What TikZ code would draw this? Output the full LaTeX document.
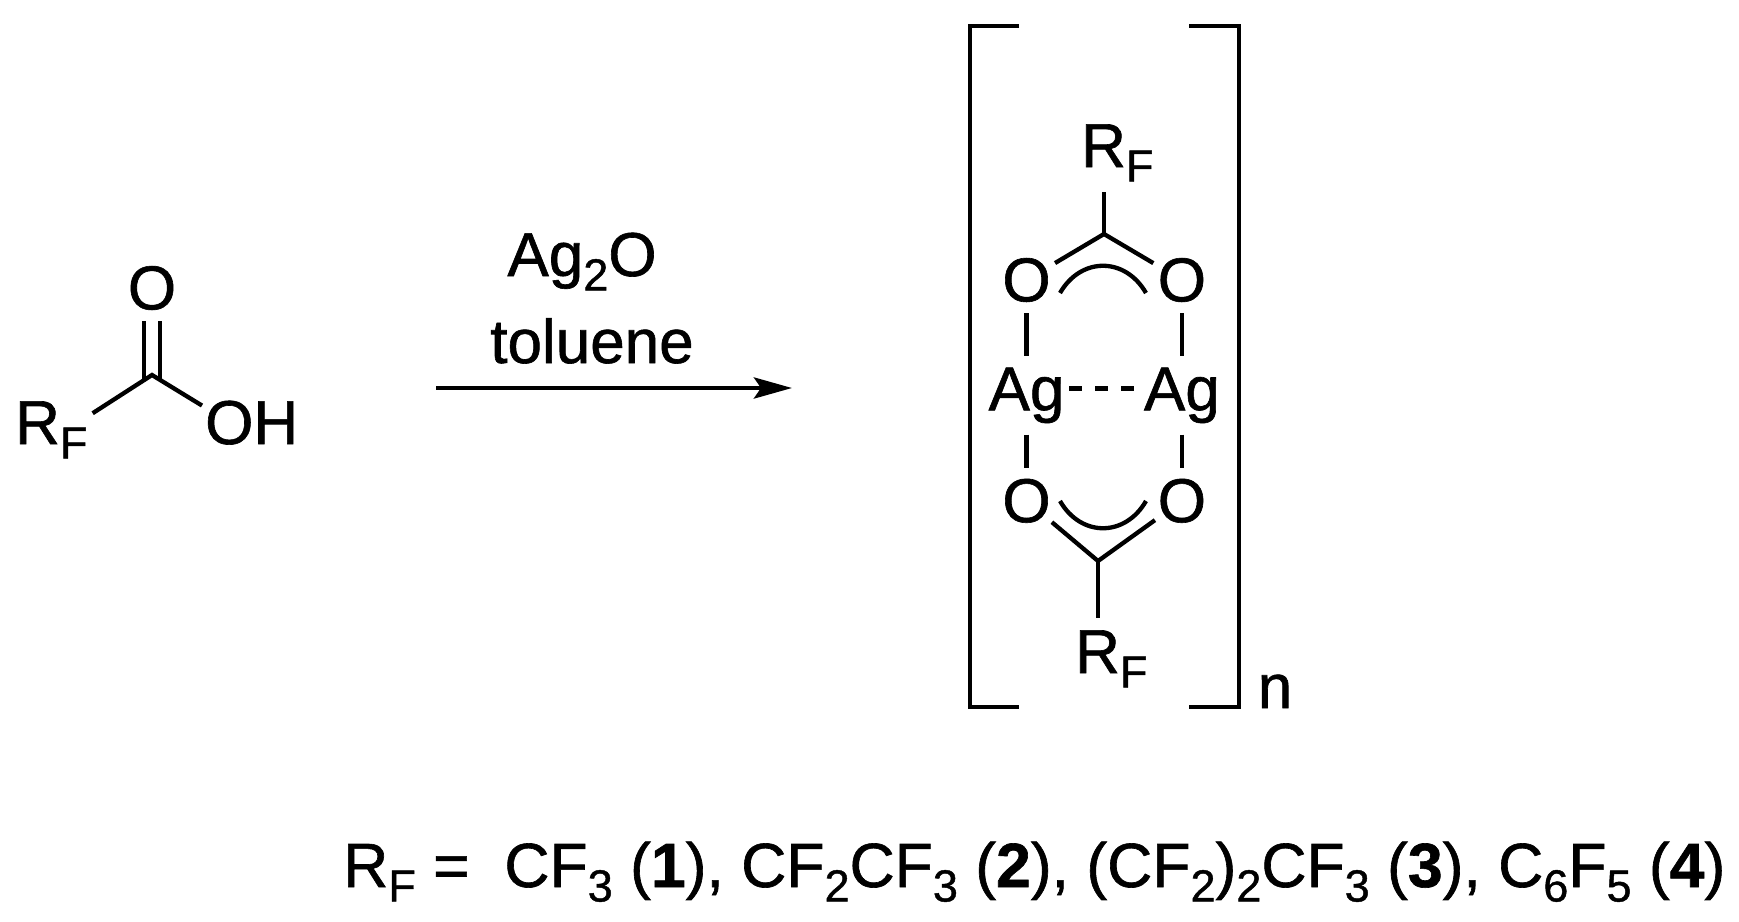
\documentclass[tikz,border=0pt]{standalone}
\usepackage{fontspec}
\setmainfont{Liberation Sans}[RawFeature={embolden=1}]
\usetikzlibrary{arrows.meta,positioning}
\newcommand{\lowtext}[1]{\raisebox{-14.5pt}{\fontsize{45pt}{45pt}\selectfont #1}}
\tikzset{%
  bond/.style={line width=4.3pt},
  bracket/.style={line width=4.7pt},
  arrow/.style={line width=4.7pt,-{Stealth[length=38pt,width=21pt,inset=7pt]}},
  dashbond/.style={bond,dash pattern=on 13pt off 13pt},
  atom/.style={circle,inner sep=0pt,minimum size=66pt},
  silver/.style={inner sep=0pt,minimum width=78pt,minimum height=78pt},
  label/.style={anchor=base west,inner sep=0pt},
  group/.style={anchor=base west,inner sep=10pt},
}
\begin{document}
\begin{tikzpicture}[x=1pt,y=-1pt,font=\fontsize{62pt}{70pt}\selectfont]
      \useasboundingbox (0,0) rectangle (1739,921);

      % acid
      \coordinate (cacid) at (152,375);
      \node[atom] (oacid) at (152,288) {O};
      \node[group,inner sep=5pt] (rfacid) at (10,444) {R\lowtext{F}};
      \node[group,inner sep=3pt] (ohacid) at (202,444) {OH};

      \draw[bond] (rfacid.22) -- (cacid) -- (ohacid.161);
      \draw[bond] ([xshift=-8pt,yshift=-4pt]cacid) -- ([xshift=-8pt]oacid.south);
      \draw[bond] ([xshift=8pt,yshift=-4pt]cacid) -- ([xshift=8pt]oacid.south);

      % reaction arrow
      \coordinate (start) at (436,388);
      \coordinate (end) at (792,388);
      \draw[arrow] (start) -- (end);
      \node[label,anchor=base] (reagent) at (582,276) {Ag\lowtext{2}O};
      \node[label,anchor=base] (solvent) at (592,363) {toluene};

      % dimer
      \node[atom] (otl) at (1026.5,280) {O};
      \node[atom,right=89pt of otl] (otr) {O};
      \node[silver,below=43pt of otl] (agl) {Ag};
      \node[silver,below=43pt of otr] (agr) {Ag};
      \node[atom,below=33pt of agl] (obl) {O};
      \node[atom,below=33pt of agr] (obr) {O};
      \coordinate (ctop) at (1104,234);
      \coordinate (cbot) at (1098,561);
      \node[group] (rftop) at (1071,167) {R\lowtext{F}};
      \node[group,inner sep=12pt] (rfbot) at (1063,673) {R\lowtext{F}};

      \draw[bond] (otl) -- (ctop) -- (otr);
      \draw[bond] (obl) -- (cbot) -- (obr);
      \draw[bond] (ctop) -- (ctop |- rftop.south);
      \draw[bond] (cbot) -- (cbot |- rfbot.north);
      \draw[bond] (otl) -- (agl);
      \draw[bond] (otr) -- (agr);
      \draw[bond] (agl) -- (obl);
      \draw[bond] (agr) -- (obr);
      \draw[dashbond,shorten <=3.5pt,shorten >=8.5pt] ([yshift=7pt]agl.east) -- ([yshift=7pt]agr.west);

      % delocalised arcs
      \coordinate (atl) at (1060,293);
      \coordinate (atr) at (1146,293);
      \coordinate (abl) at (1060,501);
      \coordinate (abr) at (1146,501);
      \draw[bond] (atl) to[bend left=60,looseness=1.25] (atr);
      \draw[bond] (abl) to[bend right=60,looseness=1.25] (abr);

      % brackets
      \coordinate (tl) at (1019,26);
      \coordinate (tlc) at (970,26);
      \coordinate (blc) at (970,707);
      \coordinate (bl) at (1019,707);
      \coordinate (tr) at (1189,26);
      \coordinate (trc) at (1239,26);
      \coordinate (brc) at (1239,707);
      \coordinate (br) at (1189,707);
      \draw[bracket] (tl) -- (tlc) -- (blc) -- (bl);
      \draw[bracket] (tr) -- (trc) -- (brc) -- (br);
      \node[label,anchor=base] (repeat) at (1275,708) {n};

      % substituents
      \node[label,font=\fontsize{62.5pt}{70pt}\selectfont] (legend) at (343,887) {R\lowtext{F} =\ \ CF\lowtext{3} (\textbf{1}), CF\lowtext{2}CF\lowtext{3} (\textbf{2}), (CF\lowtext{2})\lowtext{2}CF\lowtext{3} (\textbf{3}), C\lowtext{6}F\lowtext{5} (\textbf{4})};
    \end{tikzpicture}
\end{document}
